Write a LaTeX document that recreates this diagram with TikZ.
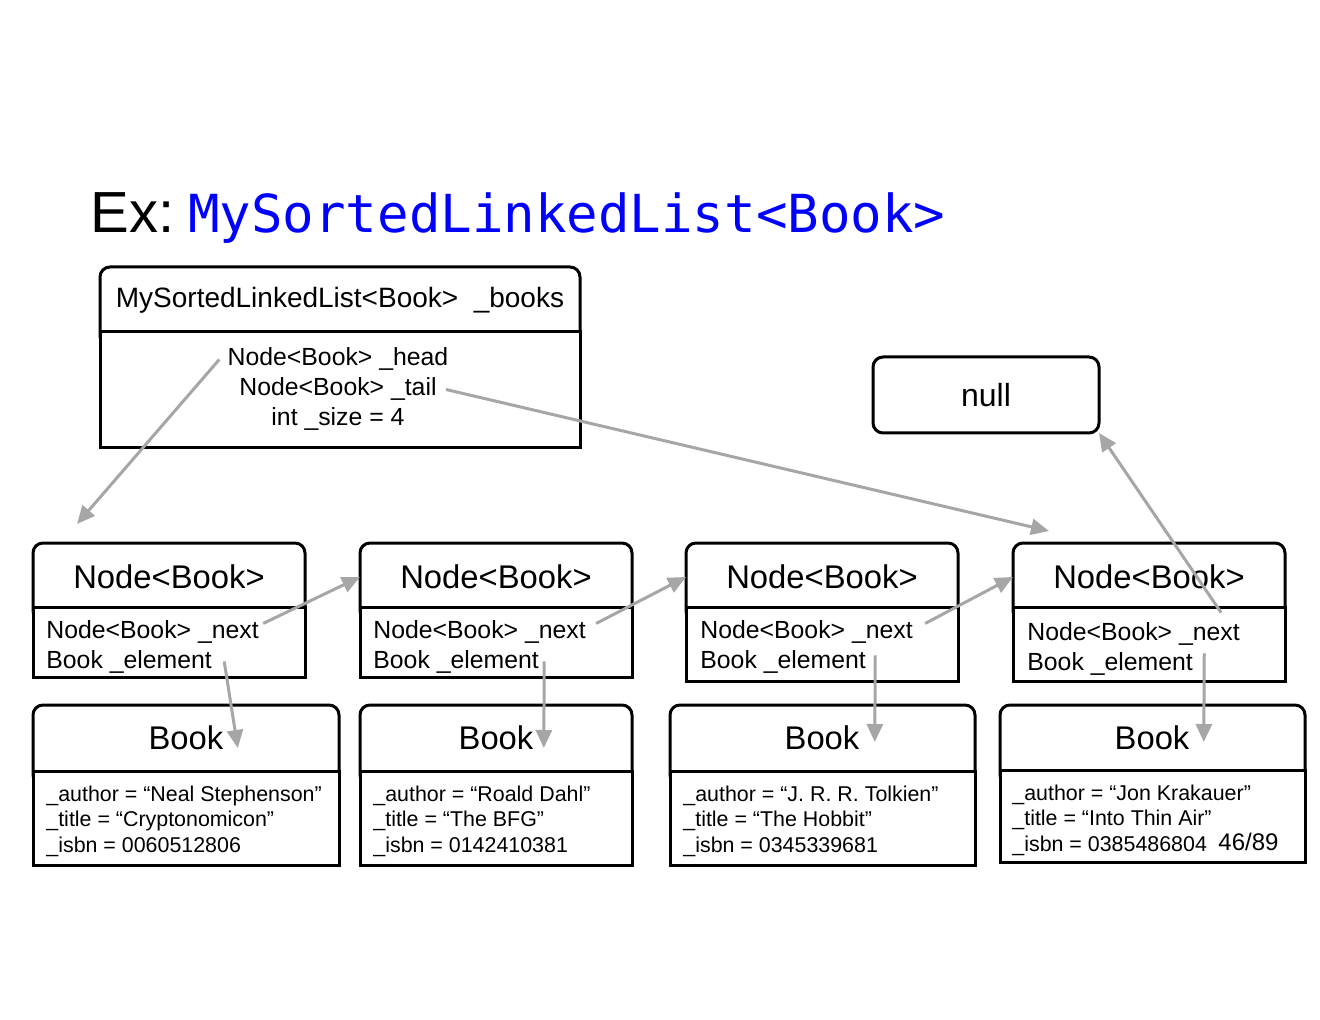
\documentclass[tikz,border=0pt]{standalone}
\usepackage{fontspec}
\setmainfont{Liberation Sans}
\newfontfamily\codefont{DejaVu Sans Mono}
\usetikzlibrary{arrows.meta}
\definecolor{ptrgray}{HTML}{A6A6A6}
\definecolor{codeblue}{RGB}{0,0,255}
\tikzset{
  hdbox/.style={draw, line width=1.5pt, rounded corners=5pt, anchor=north west, inner sep=0pt, outer sep=0pt},
  bdbox/.style={draw, line width=1.5pt, fill=white, anchor=north west, inner sep=0pt, outer sep=0pt},
  big/.style={inner sep=0pt, font=\fontsize{16.4}{20}\selectfont},
  txt/.style={inner sep=0pt, anchor=base west, font=\fontsize{12.4}{15}\selectfont},
  sml/.style={inner sep=0pt, anchor=base west, font=\fontsize{10.7}{13}\selectfont},
  ptr/.style={draw=ptrgray, line width=1.5pt, -{Triangle[length=9pt,width=8pt]}}
}
\begin{document}
\begin{tikzpicture}[x=0.5pt,y=-0.5pt]
\useasboundingbox (0,0) rectangle (1320,1020);

\node[anchor=base west, inner sep=0pt, font=\fontsize{29}{35}\selectfont] (ttl) at (90,233)
  {Ex:\hspace{7pt}{\codefont\fontsize{26.2}{32}\selectfont\color{codeblue}MySortedLinkedList<Book>}};

\node[hdbox, minimum width=240pt, minimum height=39.5pt] (lh) at (100,267) {};
\node[bdbox, minimum width=240pt, minimum height=58pt] (lb) at (100,332) {};
\node[inner sep=0pt, font=\fontsize{14}{17}\selectfont] (lt) at (340,300) {MySortedLinkedList<Book>~~\_books};
\node[txt, anchor=base] (hdl) at (338,366) {Node<Book> \_head};
\node[txt, anchor=base] (tll) at (338,396) {Node<Book> \_tail};
\node[txt, anchor=base] (szl) at (338,426) {int \_size = 4};

\node[hdbox, minimum width=113pt, minimum height=38pt, font=\fontsize{16}{20}\selectfont] (nul) at (873,357) {null};

\node[hdbox, minimum width=136pt, minimum height=39pt] (f1) at (33,543) {};
\node[bdbox, minimum width=136pt, minimum height=35pt] (g1) at (33,607) {};
\node[hdbox, minimum width=136pt, minimum height=39pt] (f2) at (360,543) {};
\node[bdbox, minimum width=136pt, minimum height=35pt] (g2) at (360,607) {};
\node[hdbox, minimum width=136pt, minimum height=39pt] (f3) at (686,543) {};
\node[bdbox, minimum width=136pt, minimum height=37pt] (g3) at (686,607) {};
\node[hdbox, minimum width=136pt, minimum height=39pt] (f4) at (1013,543) {};
\node[bdbox, minimum width=136pt, minimum height=37pt] (g4) at (1013,607) {};

\node[hdbox, minimum width=153pt, minimum height=40pt] (p1) at (33,705) {};
\node[bdbox, minimum width=153pt, minimum height=47pt] (q1) at (33,771) {};
\node[hdbox, minimum width=136pt, minimum height=40pt] (p2) at (360,705) {};
\node[bdbox, minimum width=136pt, minimum height=47pt] (q2) at (360,771) {};
\node[hdbox, minimum width=152.5pt, minimum height=40pt] (p3) at (670,705) {};
\node[bdbox, minimum width=152.5pt, minimum height=47pt] (q3) at (670,771) {};
\node[hdbox, minimum width=152.5pt, minimum height=40pt] (p4) at (1000,705) {};
\node[bdbox, minimum width=152.5pt, minimum height=46pt] (q4) at (1000,770) {};

\node[big] (h1) at (169,577) {Node<Book>};
\node[big] (h2) at (496,577) {Node<Book>};
\node[big] (h3) at (822,577) {Node<Book>};
\node[big] (h4) at (1149,577) {Node<Book>};
\node[txt] (nx1) at (46,638) {Node<Book> \_next};
\node[txt] (el1) at (46,668) {Book \_element};
\node[txt] (nx2) at (373,638) {Node<Book> \_next};
\node[txt] (el2) at (373,668) {Book \_element};
\node[txt] (nx3) at (700,638) {Node<Book> \_next};
\node[txt] (el3) at (700,668) {Book \_element};
\node[txt] (nx4) at (1027,640) {Node<Book> \_next};
\node[txt] (el4) at (1027,670) {Book \_element};

\node[big] (bk1) at (186,738) {Book};
\node[big] (bk2) at (496,738) {Book};
\node[big] (bk3) at (822,738) {Book};
\node[big] (bk4) at (1152,738) {Book};
\node[sml] (au1) at (46,801) {\_author = “Neal Stephenson”};
\node[sml] (ti1) at (46,826) {\_title = “Cryptonomicon”};
\node[sml] (is1) at (46,852) {\_isbn = 0060512806};
\node[sml] (au2) at (373,801) {\_author = “Roald Dahl”};
\node[sml] (ti2) at (373,826) {\_title = “The BFG”};
\node[sml] (is2) at (373,852) {\_isbn = 0142410381};
\node[sml] (au3) at (683,801) {\_author = “J. R. R. Tolkien”};
\node[sml] (ti3) at (683,826) {\_title = “The Hobbit”};
\node[sml] (is3) at (683,852) {\_isbn = 0345339681};
\node[sml] (au4) at (1012,800) {\_author = “Jon Krakauer”};
\node[sml] (ti4) at (1012,825) {\_title = “Into Thin Air”};
\node[sml] (is4) at (1012,851) {\_isbn = 0385486804};
\node[inner sep=0pt, anchor=base west, font=\fontsize{12}{14}\selectfont] (pg) at (1218,850) {46/89};

\coordinate (hin) at (77,524);
\coordinate (tin) at (1049,531);
\draw[ptr] ([xshift=-4pt]hdl.west) -- (hin);
\draw[ptr] ([xshift=4.5pt]tll.east) -- (tin);
\draw[ptr] ([xshift=2pt,yshift=4pt]nx1.east) -- (h2 -| f2.west);
\draw[ptr] ([xshift=5pt,yshift=4pt]nx2.east) -- (h3 -| f3.west);
\draw[ptr] ([xshift=6pt,yshift=4pt]nx3.east) -- (h4 -| f4.west);
\draw[ptr] ([xshift=-9.5pt,yshift=4.5pt]nx4.north east) -- (nul.south east);
\draw[ptr] ([xshift=6pt]el1.east) -- ([xshift=7pt,yshift=-5pt]bk1.east);
\draw[ptr] ([xshift=2.5pt]el2.east) -- ([xshift=5pt,yshift=-5pt]bk2.east);
\draw[ptr] ([xshift=4.5pt,yshift=3pt]el3.east) -- ([xshift=7.5pt,yshift=-2pt]bk3.east);
\draw[ptr] ([xshift=5.5pt,yshift=5pt]el4.east) -- ([xshift=7pt,yshift=-2pt]bk4.east);
\end{tikzpicture}
\end{document}
